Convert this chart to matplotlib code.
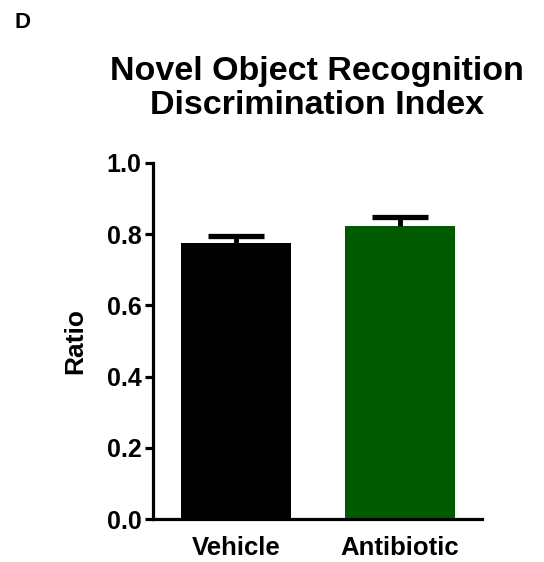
import matplotlib
matplotlib.use("Agg")
import matplotlib.pyplot as plt

categories = ["Vehicle", "Antibiotic"]
means = [0.774, 0.822]
sems = [0.021, 0.026]
colors = ["#000000", "#005a00"]
yticks = [0.0, 0.2, 0.4, 0.6, 0.8, 1.0]

plt.rcParams['font.family'] = ['Liberation Sans', 'DejaVu Sans']
plt.rcParams['font.weight'] = 'bold'

fig = plt.figure(figsize=(5.44, 5.62), dpi=100)
ax = fig.add_axes([0.2807, 0.0765, 0.6048, 0.6335])

x = list(range(len(categories)))
ax.bar(x, means, width=0.67, color=colors, zorder=2)
eb = ax.errorbar(x, means, yerr=[[0] * len(sems), sems], fmt='none', ecolor='black',
                 elinewidth=3.5, capsize=20, capthick=3.8, zorder=3)
# hide the lower caps (only upper error shown)
caplines = eb[1]
if len(caplines) >= 2:
    caplines[0].set_visible(False)

ax.set_xlim(-0.508, 1.498)
ax.set_ylim(0, 1.0)
ax.set_yticks(yticks)
ax.set_yticklabels([f"{t:.1f}" for t in yticks])
ax.set_xticks(x)
ax.set_xticklabels(categories)

for s in ['top', 'right']:
    ax.spines[s].set_visible(False)
for s in ['left', 'bottom']:
    ax.spines[s].set_linewidth(2.3)

ax.tick_params(axis='y', length=6, width=2.3, labelsize=18, pad=2)
ax.tick_params(axis='x', length=0, labelsize=18.5, pad=12)
for lab in ax.get_xticklabels() + ax.get_yticklabels():
    lab.set_fontweight('bold')

ax.set_ylabel("Ratio", fontsize=19, fontweight='bold', labelpad=14)
ax.set_title("Novel Object Recognition\nDiscrimination Index", fontsize=24.5,
             fontweight='bold', pad=35, linespacing=1.15)

fig.text(0.026, 0.950, "D", fontsize=16, fontweight='bold', ha='left', va='baseline')

fig.savefig("out.png", dpi=100)
